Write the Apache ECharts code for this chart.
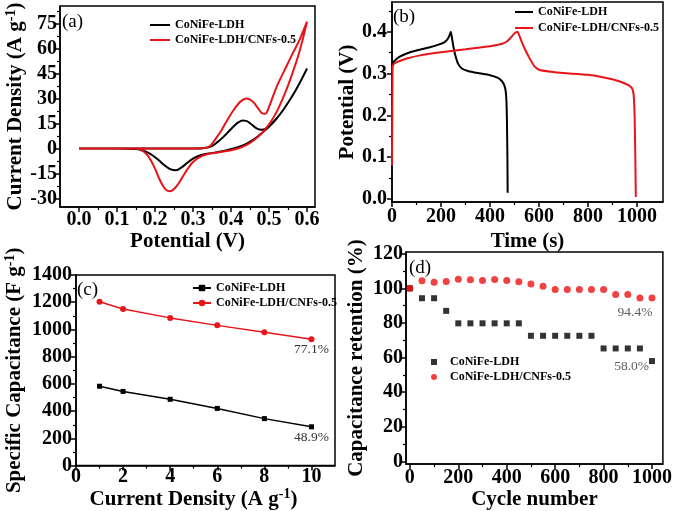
<!DOCTYPE html>
<html><head><meta charset="utf-8">
<script src="https://cdn.jsdelivr.net/npm/echarts@6/dist/echarts.min.js"></script>
<style>html,body{margin:0;padding:0;background:#fff}#c{width:675px;height:511px}</style>
</head><body><div id="c"></div>
<script>
// ---------- (a) CV curves: forward sweep then reverse sweep ----------
const cvPotentialLdh = [0.00,0.10,0.20,0.30,0.33,0.35,0.365,0.38,0.395,0.41,0.42,0.43,0.44,0.45,0.46,0.47,0.48,0.49,0.50,0.52,0.54,0.56,0.58,0.60,
  0.58,0.56,0.54,0.52,0.50,0.48,0.46,0.44,0.42,0.40,0.38,0.36,0.34,0.32,0.30,0.285,0.27,0.255,0.24,0.225,0.21,0.195,0.18,0.165,0.15,0.10,0.00];
const cvCurrentLdh = [0,0,0,0,0.3,1.5,4,7,10.5,14,15.8,16.8,16.6,15.2,13.3,11.8,11.3,11.8,13.5,18,24,31,39,48,
  39,31,24,18,13,9,5.5,2.8,1,-0.3,-1.5,-2.3,-3,-4,-6,-8.5,-11.3,-13,-12.3,-10,-7,-4.3,-2.3,-1,-0.3,0,0];
const cvPotentialCnf = [0.00,0.10,0.20,0.30,0.33,0.345,0.36,0.375,0.39,0.405,0.42,0.43,0.44,0.45,0.46,0.47,0.48,0.49,0.50,0.52,0.54,0.56,0.58,0.60,
  0.58,0.56,0.54,0.52,0.50,0.48,0.46,0.44,0.42,0.40,0.38,0.36,0.34,0.32,0.30,0.285,0.27,0.255,0.24,0.23,0.22,0.21,0.20,0.19,0.18,0.17,0.16,0.15,0.10,0.00];
const cvCurrentCnf = [0,0,0,0,0.3,1.5,6,11,17,22.5,27,29,30,29.3,27.5,24.5,21.5,20.8,25,37,46.5,56,65,76,
  58,44,32,22,14.5,9,5,2,0.2,-1,-1.8,-2.5,-3.3,-4.8,-8,-12.5,-18,-23,-25.5,-25,-22,-17.5,-12,-7.5,-4,-1.8,-0.5,0,0,0];

// ---------- (b) GCD curves ----------
const gcdTimeLdh = [0,10,30,60,100,150,190,215,228,235,240,246,252,260,270,285,310,350,400,430,448,458,464,467,469,471,472];
const gcdPotentialLdh = [0.322,0.33,0.34,0.348,0.355,0.362,0.369,0.375,0.383,0.392,0.400,0.38,0.36,0.34,0.323,0.312,0.306,0.301,0.296,0.29,0.282,0.272,0.258,0.235,0.19,0.1,0.015];
const gcdTimeCnf = [0,1,2,4,20,60,120,200,300,400,450,470,485,500,512,520,530,545,560,580,600,650,700,800,870,930,965,980,986,990,993,995];
const gcdPotentialCnf = [0.08,0.2,0.3,0.32,0.327,0.336,0.344,0.351,0.358,0.365,0.371,0.377,0.386,0.396,0.400,0.39,0.375,0.355,0.338,0.318,0.309,0.304,0.301,0.297,0.29,0.281,0.272,0.264,0.25,0.2,0.1,0.005];

// ---------- (c) rate capability ----------
const rateCurrent = [1,2,4,6,8,10];
const rateCapLdh = [583,545,487,420,345,285];
const rateCapCnf = [1203,1150,1085,1030,980,928];

// ---------- (d) cycling ----------
const cycleNumber = [0,50,100,150,200,250,300,350,400,450,500,550,600,650,700,750,800,850,900,950,1000];
const retentionLdh = [100,94.3,94.3,87,79.8,79.8,79.8,79.8,79.8,79.8,72.6,72.6,72.6,72.6,72.6,72.6,65.3,65.3,65.3,65.3,58.0];
const retentionCnf = [100,104.4,103.5,104,105.3,105,104.5,105.1,104.5,103.8,102.5,101.2,99.3,99.3,99.3,99.3,99.4,96.5,96.5,94.5,94.4];

// ---------- texts ----------
const seriesNames = ['CoNiFe-LDH', 'CoNiFe-LDH/CNFs-0.5'];
const panelLetters = ['(a)', '(b)', '(c)', '(d)'];
const retentionText = { cLdh: '48.9%', cCnf: '77.1%', dLdh: '58.0%', dCnf: '94.4%' };

// ---------- tick values ----------
const ticksAx = [0,0.1,0.2,0.3,0.4,0.5,0.6], minorAx = [0.05,0.15,0.25,0.35,0.45,0.55];
const ticksAy = [-30,-15,0,15,30,45,60,75], minorAy = [-22.5,-7.5,7.5,22.5,37.5,52.5,67.5,82.5];
const ticksBx = [0,200,400,600,800,1000], minorBx = [100,300,500,700,900];
const ticksBy = [0,0.1,0.2,0.3,0.4], minorBy = [0.05,0.15,0.25,0.35,0.45];
const ticksCx = [0,2,4,6,8,10], minorCx = [1,3,5,7,9];
const ticksCy = [0,200,400,600,800,1000,1200,1400], minorCy = [100,300,500,700,900,1100,1300];
const ticksDx = [0,200,400,600,800,1000], minorDx = [100,300,500,700,900];
const ticksDy = [0,20,40,60,80,100,120], minorDy = [10,30,50,70,90,110];

const FONT = 'Liberation Serif';
const RED = '#e8141a';
const zip = (xs, ys) => xs.map((x, i) => [x, ys[i]]);
const stripName = n => n.split('#')[0];

const nameStyle = (pad) => ({
  fontFamily: FONT, fontWeight: 'bold', fontSize: 21, color: '#000', padding: pad || 0,
  rich: {
    n: { fontFamily: FONT, fontWeight: 'bold', fontSize: 21, lineHeight: 24, color: '#000' },
    s: { fontFamily: FONT, fontWeight: 'bold', fontSize: 14, lineHeight: 14, verticalAlign: 'top', color: '#000' }
  }
});

function axes(dim, grid, min, max, majors, minors, fmt, name, gap, margin, namePad) {
  const isX = dim === 'x';
  const base = { type: 'value', gridIndex: grid, position: isX ? 'bottom' : 'left', min, max, splitLine: { show: false } };
  const major = Object.assign({}, base, {
    axisLine: { show: true, onZero: false, lineStyle: { color: '#000', width: 1.5 } },
    axisTick: { show: true, inside: false, length: 5, customValues: majors, lineStyle: { color: '#000', width: 1.5 } },
    axisLabel: { show: true, customValues: majors, formatter: fmt, margin, color: '#000', fontFamily: FONT, fontWeight: 'bold', fontSize: 20 },
    name, nameLocation: 'middle', nameGap: gap, nameRotate: isX ? 0 : 90, nameTextStyle: nameStyle(namePad)
  });
  const minor = Object.assign({}, base, {
    axisLine: { show: false, onZero: false },
    axisTick: { show: true, inside: false, length: 3, customValues: minors, lineStyle: { color: '#000', width: 1.2 } },
    axisLabel: { show: false }
  });
  return [major, minor];
}

const f1 = v => Number(v).toFixed(1);
const f0 = v => String(Math.round(v));

const xAxis = [].concat(
  axes('x', 0, -0.05, 0.621, ticksAx, minorAx, f1, 'Potential (V)', 24, 3),
  axes('x', 1, 0, 1106, ticksBx, minorBx, f0, 'Time (s)', 29, 5),
  axes('x', 2, 0, 11, ticksCx, minorCx, f0, '{n|Current Density (A g}{s|-1}{n|)}', 16, 1, [0, 24, 0, 0]),
  axes('x', 3, -16, 1045, ticksDx, minorDx, f0, 'Cycle number', 22, 4)
);
const yAxis = [].concat(
  axes('y', 0, -35, 85.4, ticksAy, minorAy, f0, '{n|Current Density (A g}{s|-1}{n|)}', 31, 3),
  axes('y', 1, -0.0072, 0.471, ticksBy, minorBy, f1, 'Potential (V)', 30, 5),
  axes('y', 2, 0, 1400, ticksCy, minorCy, f0, '{n|Specific Capacitance (F g}{s|-1}{n|)}', 49, 4),
  axes('y', 3, -1.5, 121, ticksDy, minorDy, f0, 'Capacitance retention (%)', 39, 3)
);

const annoLabel = (text, pos, dist, offset) => ({
  show: true, formatter: text, position: pos, distance: dist, offset: offset || [0, 0],
  color: '#333', fontFamily: FONT, fontWeight: 'normal', fontSize: 13.5
});
function withLastLabel(points, label) {
  const d = points.slice();
  d[d.length - 1] = { value: d[d.length - 1], label };
  return d;
}

const lineBase = (name, xi, data, color, width) => ({
  type: 'line', name, xAxisIndex: xi, yAxisIndex: xi, data, symbol: 'none', showSymbol: false,
  lineStyle: { color, width }, itemStyle: { color }, color, smooth: 0.3, animation: false, silent: true
});

const series = [
  lineBase(seriesNames[0] + '#a', 0, zip(cvPotentialLdh, cvCurrentLdh), '#000', 2),
  lineBase(seriesNames[1] + '#a', 0, zip(cvPotentialCnf, cvCurrentCnf), RED, 2),
  Object.assign(lineBase(seriesNames[0] + '#b', 2, zip(gcdTimeLdh, gcdPotentialLdh), '#000', 2), { smooth: 0.2 }),
  Object.assign(lineBase(seriesNames[1] + '#b', 2, zip(gcdTimeCnf, gcdPotentialCnf), RED, 2), { smooth: 0.2 }),
  {
    type: 'line', name: seriesNames[0] + '#c', xAxisIndex: 4, yAxisIndex: 4, smooth: false,
    data: withLastLabel(zip(rateCurrent, rateCapLdh), annoLabel(retentionText.cLdh, 'bottom', 1)),
    symbol: 'rect', symbolSize: 5, showSymbol: true, lineStyle: { color: '#000', width: 1.5 }, itemStyle: { color: '#000' }, animation: false, silent: true
  },
  {
    type: 'line', name: seriesNames[1] + '#c', xAxisIndex: 4, yAxisIndex: 4, smooth: false,
    data: withLastLabel(zip(rateCurrent, rateCapCnf), annoLabel(retentionText.cCnf, 'bottom', 0)),
    symbol: 'circle', symbolSize: 6, showSymbol: true, lineStyle: { color: RED, width: 1.5 }, itemStyle: { color: RED }, animation: false, silent: true
  },
  {
    type: 'scatter', name: seriesNames[0] + '#d', xAxisIndex: 6, yAxisIndex: 6,
    data: withLastLabel(zip(cycleNumber, retentionLdh), annoLabel(retentionText.dLdh, 'left', 0, [0, 5])),
    symbol: 'rect', symbolSize: 6, itemStyle: { color: '#000' }, animation: false, silent: true
  },
  {
    type: 'scatter', name: seriesNames[1] + '#d', xAxisIndex: 6, yAxisIndex: 6,
    data: withLastLabel(zip(cycleNumber, retentionCnf), annoLabel(retentionText.dCnf, 'bottom', 4, [-17, 0])),
    symbol: 'circle', symbolSize: 7, itemStyle: { color: '#ee1111' }, animation: false, silent: true
  }
];

const legendBase = (suffix, left, top, iw, ih, lh, extra) => Object.assign({
  orient: 'vertical', left, top, padding: 0, itemGap: 0, itemWidth: iw, itemHeight: ih,
  selectedMode: false, data: seriesNames.map(n => n + suffix), formatter: stripName,
  textStyle: { fontFamily: FONT, fontWeight: 'bold', fontSize: 12, color: '#000', lineHeight: lh }
}, extra || {});

const gridStyle = { show: true, borderColor: '#000', borderWidth: 1.5, backgroundColor: 'transparent', containLabel: false };

const option = {
  animation: false,
  backgroundColor: '#fff',
  grid: [
    Object.assign({ left: 60, top: 6, width: 255, height: 201 }, gridStyle),
    Object.assign({ left: 392, top: 2, width: 271, height: 200 }, gridStyle),
    Object.assign({ left: 76, top: 275, width: 259, height: 194 }, gridStyle),
    Object.assign({ left: 406, top: 252, width: 259, height: 214 }, gridStyle)
  ],
  xAxis, yAxis, series,
  legend: [
    legendBase('#a', 150, 17.5, 20, 2, 15, { icon: 'rect' }),
    legendBase('#b', 515, 4, 18, 2, 16, { icon: 'rect' }),
    legendBase('#c', 192, 280.5, 18, 8, 15),
    legendBase('#d', 431, 354.5, 6, 6, 15, {
      data: [
        { name: seriesNames[0] + '#d', icon: 'rect' },
        { name: seriesNames[1] + '#d', icon: 'circle' }
      ],
      textStyle: { fontFamily: FONT, fontWeight: 'bold', fontSize: 12, color: '#000', lineHeight: 15, padding: [0, 0, 0, 8] }
    })
  ],
  graphic: [
    [62, 22], [393, 17], [77, 290], [409, 268]
  ].map((p, i) => ({
    type: 'text', x: p[0], y: p[1], silent: true,
    style: { text: panelLetters[i], font: '19px "Liberation Serif"', fill: '#000', verticalAlign: 'middle' }
  }))
};

const chart = echarts.init(document.getElementById('c'), null, { renderer: 'canvas' });
chart.setOption(option);
</script></body></html>
